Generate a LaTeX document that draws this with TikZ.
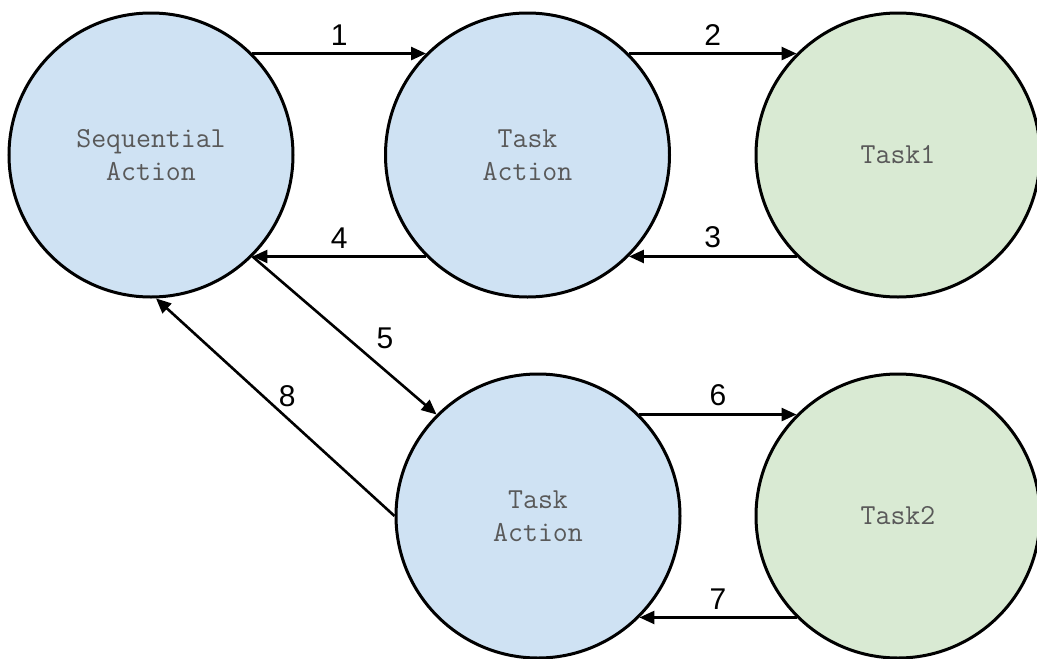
\documentclass[tikz,border=0pt]{standalone}
\usepackage{fontspec}
\setmainfont{Liberation Sans}
\usetikzlibrary{arrows.meta}
\definecolor{bluefill}{HTML}{CFE2F3}
\definecolor{greenfill}{HTML}{D9EAD3}
\definecolor{txtgray}{HTML}{595959}
\begin{document}
\begin{tikzpicture}[x=1pt,y=-1pt,
  state/.style={circle,draw=black,line width=3pt,minimum size=284pt,inner sep=0pt,
    align=center,text=txtgray,font=\ttfamily\fontsize{29}{33}\selectfont},
  bluestate/.style={state,fill=bluefill},
  greenstate/.style={state,fill=greenfill},
  conn/.style={line width=2.6pt,-{Triangle[length=15pt,width=13pt]}},
  lbl/.style={inner sep=0pt,font=\fontsize{30}{32}\selectfont}]
\useasboundingbox (0,0) rectangle (1037,659);
\node[bluestate] (seq) at (151,155) {Sequential\\Action};
\node[bluestate] (ta1) at (527.5,155) {Task\\Action};
\node[greenstate] (t1) at (898,155) {Task1};
\node[bluestate] (ta2) at (538,516) {Task\\Action};
\node[greenstate] (t2) at (898,516) {Task2};
\draw[conn] (seq.45) -- node[lbl,above=7pt] {1} (ta1.135);
\draw[conn] (ta1.45) -- node[lbl,above=7pt] {2} (t1.135);
\draw[conn] (t1.-135) -- node[lbl,above=7pt] {3} (ta1.-45);
\draw[conn] (ta1.-135) -- node[lbl,above=7pt] {4} (seq.-45);
\draw[conn] (seq.-45) -- node[lbl,pos=0.72,above=20pt] {5} (ta2.135);
\draw[conn] (ta2.45) -- node[lbl,above=7pt] {6} (t2.135);
\draw[conn] (t2.-135) -- node[lbl,above=7pt] {7} (ta2.-45);
\draw[conn] (ta2.180) -- node[lbl,pos=0.45,above=10pt] {8} (seq.-88);
\end{tikzpicture}
\end{document}
